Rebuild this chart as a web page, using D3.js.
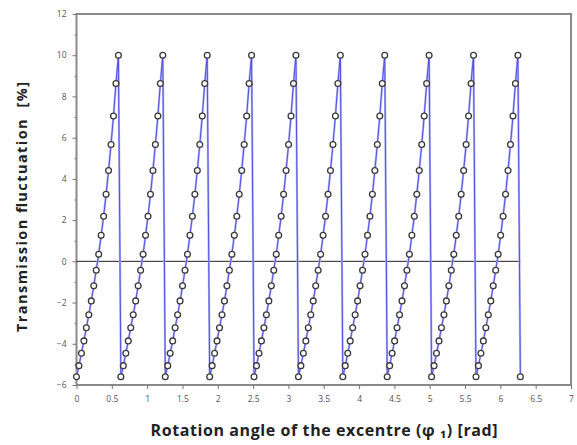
<!DOCTYPE html>
<html>
<head>
<meta charset="utf-8">
<script src="https://cdn.jsdelivr.net/npm/d3@7"></script>
<style>
  body { margin: 0; background: #fff; }
  text { font-family: "Open Sans", "Noto Sans", sans-serif; }
</style>
</head>
<body>
<div id="graph"></div>
<script>
// measurements
var width = 577;
var height = 445;
var margin = { top: 14, right: 6, bottom: 60, left: 76.5 };

// data: one tooth of the fluctuation curve (2 deg steps)
var toothValues = [-5.6, -5.06, -4.46, -3.86, -3.22, -2.59, -1.92, -1.19, -0.43,
                   0.34, 1.26, 2.19, 3.25, 4.41, 5.67, 7.05, 8.63, 10];
var teethCount = 10;
var stepRad = Math.PI / 90;
var zeroLine = [0, 2 * Math.PI];

// tick labels
var xTicks = [0, 0.5, 1, 1.5, 2, 2.5, 3, 3.5, 4, 4.5, 5, 5.5, 6, 6.5, 7];
var yTicks = [-6, -4, -2, 0, 2, 4, 6, 8, 10, 12];
var yMinorTicks = [-5, -3, -1, 1, 3, 5, 7, 9, 11];

var xLabel = "Rotation angle of the excentre (\u03C6 \u2081) [rad]";
var yLabel = "Transmission fluctuation  [%]";

// build the series from the repeated tooth
var data = [];
for (var t = 0; t < teethCount; t++) {
    toothValues.forEach(function (v, i) {
        data.push({ x: (t * toothValues.length + i) * stepRad, y: v });
    });
}
data.push({ x: teethCount * toothValues.length * stepRad, y: toothValues[0] });

var chartWidth = width - margin.left - margin.right;
var chartHeight = height - margin.top - margin.bottom;

var chart = d3.select("#graph").append("svg")
    .attr("width", width)
    .attr("height", height);

var xScale = d3.scaleLinear().domain([0, 7]).range([0, chartWidth]);
var yScale = d3.scaleLinear().domain([-6, 12]).range([chartHeight, 0]);

var plot = chart.append("g")
    .attr("transform", "translate(" + margin.left + "," + margin.top + ")");

// frame
plot.append("rect")
    .attr("width", chartWidth)
    .attr("height", chartHeight)
    .attr("fill", "none")
    .attr("stroke", "#8a8a8a")
    .attr("stroke-width", 2);

// x axis
var xAxis = d3.axisBottom(xScale).tickValues(xTicks).tickSize(4).tickPadding(7)
    .tickFormat(d3.format("~g"));
var gx = plot.append("g")
    .attr("transform", "translate(0," + chartHeight + ")")
    .call(xAxis);
gx.select(".domain").remove();

// y axis
var yAxis = d3.axisLeft(yScale).tickValues(yTicks).tickSize(4).tickPadding(6);
var gy = plot.append("g").call(yAxis);
gy.select(".domain").remove();

var gyMinor = plot.append("g")
    .call(d3.axisLeft(yScale).tickValues(yMinorTicks).tickSize(2).tickFormat(""));
gyMinor.select(".domain").remove();

chart.selectAll(".tick line").attr("stroke", "#777").attr("stroke-width", 1);
chart.selectAll(".tick text").attr("fill", "#555").style("font-size", "8.5px");

// zero line
plot.append("line")
    .attr("x1", xScale(zeroLine[0]))
    .attr("x2", xScale(zeroLine[1]))
    .attr("y1", yScale(0))
    .attr("y2", yScale(0))
    .attr("stroke", "#222")
    .attr("stroke-width", 1);

// curve
var line = d3.line()
    .x(function (d) { return xScale(d.x); })
    .y(function (d) { return yScale(d.y); });

plot.append("path")
    .datum(data)
    .attr("d", line)
    .attr("fill", "none")
    .attr("stroke", "#b4b4f4")
    .attr("stroke-width", 2.2);

plot.append("path")
    .datum(data)
    .attr("d", line)
    .attr("fill", "none")
    .attr("stroke", "#4646dc")
    .attr("stroke-width", 0.9);

// markers
plot.selectAll(".dot")
    .data(data)
    .enter().append("circle")
      .attr("class", "dot")
      .attr("r", 2.9)
      .attr("cx", function (d) { return xScale(d.x); })
      .attr("cy", function (d) { return yScale(d.y); })
      .attr("fill", "#fff")
      .attr("stroke", "#3a3a3a")
      .attr("stroke-width", 1.3);

// axis titles
chart.append("text")
    .attr("text-anchor", "middle")
    .attr("x", 324)
    .attr("y", 436)
    .attr("textLength", 347)
    .attr("lengthAdjust", "spacing")
    .style("font-size", "16px")
    .style("font-weight", "bold")
    .attr("fill", "#222")
    .text(xLabel);

chart.append("text")
    .attr("text-anchor", "middle")
    .attr("transform", "translate(27,207) rotate(-90)")
    .attr("textLength", 250)
    .attr("lengthAdjust", "spacing")
    .style("font-size", "14.5px")
    .style("font-weight", "bold")
    .style("white-space", "pre")
    .attr("fill", "#222")
    .text(yLabel);
</script>
</body>
</html>
